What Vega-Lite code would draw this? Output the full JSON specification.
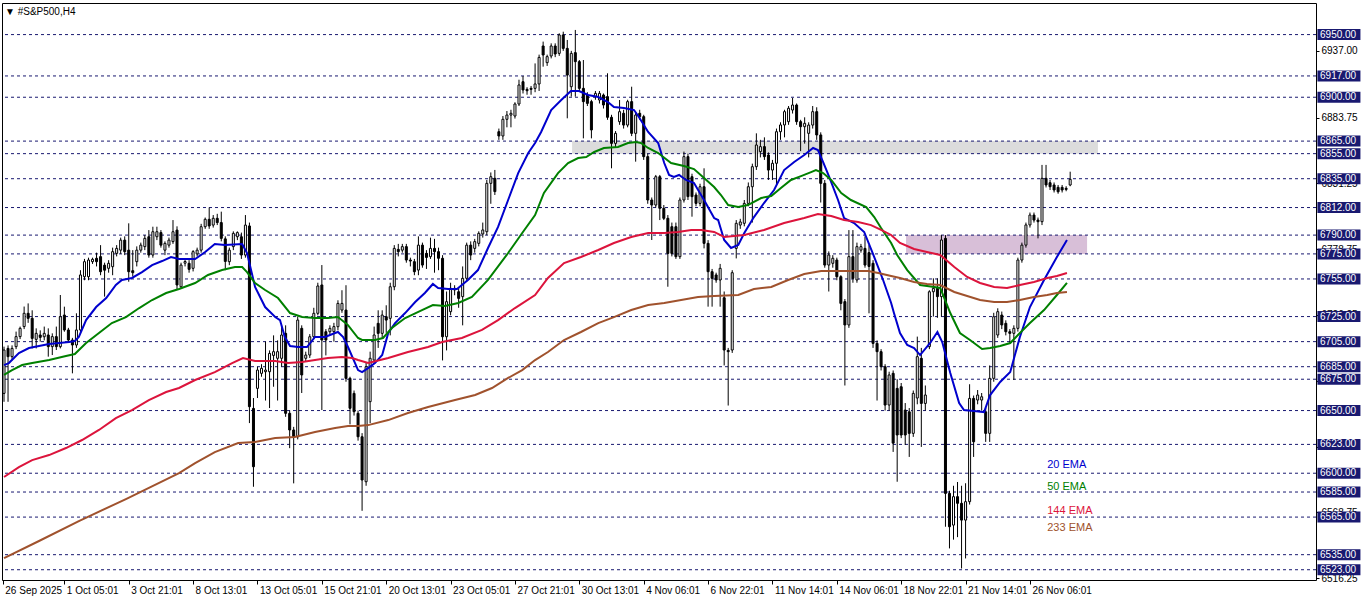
{
"$schema":"https://vega.github.io/schema/vega-lite/v6.json",
"width":1314,"height":577,
"autosize":{"type":"none"},
"padding":{"left":2,"top":3,"right":46,"bottom":23},
"background":"#ffffff",
"title":{"text":"▼ #S&P500,H4","anchor":"start","frame":"group","offset":-14,"dx":3,"fontSize":10,"font":"Liberation Sans","fontWeight":"normal","color":"#000"},
"config":{"view":{"stroke":"#000","strokeWidth":1},"scale":{"continuousPadding":0},"axis":{"grid":false,"domain":false,"labelFont":"Liberation Sans","labelFontSize":10,"labelColor":"#000","tickColor":"#000","tickWidth":1,"labelOverlap":false,"labelBound":false,"labelFlush":false}},
"datasets":{
"zones":[{"x1":141.2,"x2":271.9,"y1":6855,"y2":6865,"z":"g"},{"x1":224.2,"x2":269.2,"y1":6775,"y2":6790,"z":"p"}],
"lv":[{"p":6950},{"p":6917},{"p":6900},{"p":6865},{"p":6855},{"p":6835},{"p":6812},{"p":6790},{"p":6775},{"p":6755},{"p":6725},{"p":6705},{"p":6685},{"p":6675},{"p":6650},{"p":6623},{"p":6600},{"p":6585},{"p":6565},{"p":6535},{"p":6523}],
"leg":[{"t":"20 EMA","s":"20","p":6606.5},{"t":"50 EMA","s":"50","p":6589},{"t":"144 EMA","s":"144","p":6569.8},{"t":"233 EMA","s":"233","p":6556.3}],
"bars":[
{"i":0,"o":6663.7,"h":6701,"l":6657,"c":6698.3},
{"i":1,"o":6699.6,"h":6702,"l":6657,"c":6693},
{"i":2,"o":6693,"h":6702,"l":6690,"c":6699.6},
{"i":3,"o":6701,"h":6713,"l":6699,"c":6709},
{"i":4,"o":6709,"h":6717,"l":6707,"c":6715.6},
{"i":5,"o":6717,"h":6733,"l":6715,"c":6727.6},
{"i":6,"o":6727.6,"h":6735.5,"l":6720,"c":6723.6},
{"i":7,"o":6723.6,"h":6730,"l":6699.6,"c":6707.6},
{"i":8,"o":6706.8,"h":6715.6,"l":6699.6,"c":6711.6},
{"i":9,"o":6710.3,"h":6714,"l":6705,"c":6708.4},
{"i":10,"o":6708.9,"h":6717,"l":6706,"c":6711.6},
{"i":11,"o":6710.3,"h":6715.6,"l":6693,"c":6701},
{"i":12,"o":6701,"h":6711.6,"l":6694.3,"c":6709},
{"i":13,"o":6709,"h":6717,"l":6698.3,"c":6701},
{"i":14,"o":6701,"h":6742.2,"l":6699.6,"c":6724.9},
{"i":15,"o":6726.2,"h":6732.9,"l":6712.9,"c":6714.3},
{"i":16,"o":6714.3,"h":6716,"l":6704,"c":6706.3},
{"i":17,"o":6706.3,"h":6708,"l":6679.7,"c":6702.3},
{"i":18,"o":6702.3,"h":6727.6,"l":6700,"c":6714.3},
{"i":19,"o":6714.3,"h":6762,"l":6712,"c":6758.2},
{"i":20,"o":6756.8,"h":6771,"l":6754,"c":6768.8},
{"i":21,"o":6756.8,"h":6772,"l":6754,"c":6770.1},
{"i":22,"o":6768.8,"h":6772,"l":6767,"c":6770.7},
{"i":23,"o":6771.5,"h":6776,"l":6765,"c":6768.8},
{"i":24,"o":6772.8,"h":6782,"l":6758,"c":6760.8},
{"i":25,"o":6766,"h":6768,"l":6740.9,"c":6762},
{"i":26,"o":6763.5,"h":6770,"l":6760,"c":6767.5},
{"i":27,"o":6764.8,"h":6780,"l":6758,"c":6776.8},
{"i":28,"o":6775.4,"h":6782,"l":6773,"c":6779.4},
{"i":29,"o":6778,"h":6788,"l":6775,"c":6786},
{"i":30,"o":6786,"h":6789,"l":6774,"c":6776.8},
{"i":31,"o":6778,"h":6799.4,"l":6752.8,"c":6760.8},
{"i":32,"o":6761.6,"h":6778,"l":6757,"c":6760},
{"i":33,"o":6768.8,"h":6781,"l":6765,"c":6778},
{"i":34,"o":6778,"h":6784,"l":6776,"c":6782},
{"i":35,"o":6780.8,"h":6790,"l":6778,"c":6787.4},
{"i":36,"o":6788.7,"h":6794,"l":6772,"c":6774.1},
{"i":37,"o":6774.1,"h":6796.7,"l":6772,"c":6792.7},
{"i":38,"o":6788.7,"h":6796.7,"l":6786,"c":6792.7},
{"i":39,"o":6792,"h":6794,"l":6780,"c":6782},
{"i":40,"o":6778,"h":6785,"l":6774,"c":6783.4},
{"i":41,"o":6782,"h":6788,"l":6780,"c":6786},
{"i":42,"o":6784.8,"h":6802,"l":6783,"c":6792.7},
{"i":43,"o":6794,"h":6797,"l":6746.2,"c":6750.2},
{"i":44,"o":6748.8,"h":6768,"l":6747,"c":6766.1},
{"i":45,"o":6767.6,"h":6771,"l":6765,"c":6768.9},
{"i":46,"o":6767.5,"h":6770,"l":6760,"c":6762.7},
{"i":47,"o":6763.5,"h":6778,"l":6761,"c":6776.8},
{"i":48,"o":6775,"h":6780,"l":6773,"c":6778},
{"i":49,"o":6778,"h":6799,"l":6776,"c":6796.7},
{"i":50,"o":6796.7,"h":6804,"l":6795,"c":6802.6},
{"i":51,"o":6802.6,"h":6812,"l":6795,"c":6797.3},
{"i":52,"o":6798,"h":6806,"l":6796,"c":6803.4},
{"i":53,"o":6803.4,"h":6807,"l":6798,"c":6800},
{"i":54,"o":6800,"h":6808.7,"l":6785,"c":6787.4},
{"i":55,"o":6787,"h":6789,"l":6762,"c":6769},
{"i":56,"o":6768.8,"h":6780,"l":6766,"c":6778},
{"i":57,"o":6780.8,"h":6793,"l":6778,"c":6791.4},
{"i":58,"o":6788.7,"h":6793,"l":6786,"c":6792},
{"i":59,"o":6788.7,"h":6792,"l":6771,"c":6774.1},
{"i":60,"o":6774.1,"h":6806,"l":6772,"c":6798},
{"i":61,"o":6797.3,"h":6800,"l":6640,"c":6653.1},
{"i":62,"o":6651.7,"h":6660,"l":6589.2,"c":6605.2},
{"i":63,"o":6667.7,"h":6685,"l":6660,"c":6682.3},
{"i":64,"o":6679.7,"h":6687,"l":6677,"c":6683.7},
{"i":65,"o":6681,"h":6705,"l":6658,"c":6682.3},
{"i":66,"o":6681,"h":6698,"l":6652,"c":6695.6},
{"i":67,"o":6694,"h":6710,"l":6669,"c":6697},
{"i":68,"o":6691.7,"h":6706,"l":6658,"c":6697},
{"i":69,"o":6691.7,"h":6718,"l":6685,"c":6710.3},
{"i":70,"o":6711.6,"h":6718,"l":6645,"c":6647.8},
{"i":71,"o":6647.8,"h":6650,"l":6620,"c":6634.5},
{"i":72,"o":6634.5,"h":6637,"l":6591.9,"c":6629.1},
{"i":73,"o":6629.1,"h":6725,"l":6627,"c":6722.2},
{"i":74,"o":6715.6,"h":6718,"l":6664,"c":6678.4},
{"i":75,"o":6691.7,"h":6697,"l":6689,"c":6694.3},
{"i":76,"o":6694.3,"h":6711,"l":6692,"c":6708.9},
{"i":77,"o":6708.9,"h":6732,"l":6707,"c":6727.6},
{"i":78,"o":6727.6,"h":6752,"l":6726,"c":6749.4},
{"i":79,"o":6750.2,"h":6766.1,"l":6650.4,"c":6706.3},
{"i":80,"o":6712.9,"h":6715,"l":6694,"c":6706.3},
{"i":81,"o":6712.9,"h":6718,"l":6710,"c":6715.6},
{"i":82,"o":6713,"h":6720,"l":6705,"c":6717},
{"i":83,"o":6716.9,"h":6738,"l":6714,"c":6735.5},
{"i":84,"o":6730.2,"h":6746,"l":6728,"c":6735.5},
{"i":85,"o":6730.2,"h":6750,"l":6673,"c":6675.7},
{"i":86,"o":6675.7,"h":6677,"l":6639,"c":6651.8},
{"i":87,"o":6663.7,"h":6666,"l":6646,"c":6649.1},
{"i":88,"o":6647.8,"h":6650,"l":6626,"c":6629.1},
{"i":89,"o":6629.1,"h":6632,"l":6570,"c":6594.6},
{"i":90,"o":6593.2,"h":6688,"l":6590,"c":6685},
{"i":91,"o":6657.1,"h":6697,"l":6640,"c":6691.7},
{"i":92,"o":6690.3,"h":6717,"l":6688,"c":6710.3},
{"i":93,"o":6719.6,"h":6730,"l":6700,"c":6711.6},
{"i":94,"o":6711.6,"h":6730,"l":6708,"c":6726.2},
{"i":95,"o":6724.9,"h":6734,"l":6712,"c":6722.2},
{"i":96,"o":6723.6,"h":6752,"l":6710,"c":6748.8},
{"i":97,"o":6748.8,"h":6782,"l":6746,"c":6779.4},
{"i":98,"o":6778.6,"h":6783,"l":6773,"c":6776.8},
{"i":99,"o":6778,"h":6783,"l":6776,"c":6780.8},
{"i":100,"o":6780.8,"h":6783,"l":6768,"c":6770.1},
{"i":101,"o":6770.1,"h":6772,"l":6765,"c":6769.3},
{"i":102,"o":6768.8,"h":6771,"l":6758,"c":6760.8},
{"i":103,"o":6762.1,"h":6789,"l":6758,"c":6782},
{"i":104,"o":6782,"h":6784,"l":6764,"c":6766.1},
{"i":105,"o":6775.4,"h":6778,"l":6763,"c":6772.2},
{"i":106,"o":6772.8,"h":6788,"l":6771,"c":6779.4},
{"i":107,"o":6779.4,"h":6787,"l":6760,"c":6776.8},
{"i":108,"o":6776.8,"h":6780,"l":6762,"c":6771.5},
{"i":109,"o":6771.5,"h":6774,"l":6690,"c":6708.9},
{"i":110,"o":6708.9,"h":6745,"l":6698,"c":6736.9},
{"i":111,"o":6728.9,"h":6752,"l":6726,"c":6747.5},
{"i":112,"o":6746.2,"h":6750,"l":6742,"c":6747.5},
{"i":113,"o":6744.8,"h":6748,"l":6732,"c":6739.5},
{"i":114,"o":6740.9,"h":6765,"l":6718,"c":6755.5},
{"i":115,"o":6755.5,"h":6784,"l":6753,"c":6782},
{"i":116,"o":6782,"h":6785,"l":6770,"c":6774.1},
{"i":117,"o":6779.4,"h":6787,"l":6776,"c":6784.8},
{"i":118,"o":6783.4,"h":6793,"l":6781,"c":6791.4},
{"i":119,"o":6790.9,"h":6800,"l":6788,"c":6794.1},
{"i":120,"o":6792.7,"h":6834,"l":6790,"c":6831.3},
{"i":121,"o":6831.3,"h":6840,"l":6815,"c":6836.6},
{"i":122,"o":6835.3,"h":6842,"l":6822,"c":6824.7},
{"i":123,"o":6872.5,"h":6875,"l":6866,"c":6869.1},
{"i":124,"o":6869.1,"h":6885,"l":6866,"c":6882.4},
{"i":125,"o":6882.4,"h":6889,"l":6876,"c":6885.8},
{"i":126,"o":6885.8,"h":6890,"l":6876,"c":6887.2},
{"i":127,"o":6885,"h":6896,"l":6883,"c":6894.6},
{"i":128,"o":6894.6,"h":6914,"l":6893,"c":6909.8},
{"i":129,"o":6912.4,"h":6917,"l":6903,"c":6905.8},
{"i":130,"o":6906.3,"h":6908,"l":6902,"c":6905.2},
{"i":131,"o":6907.1,"h":6909,"l":6902,"c":6906.3},
{"i":132,"o":6907.1,"h":6927,"l":6904,"c":6910.6},
{"i":133,"o":6910.6,"h":6934,"l":6905,"c":6931.8},
{"i":134,"o":6940.9,"h":6944.4,"l":6924.4,"c":6933.7},
{"i":135,"o":6927.6,"h":6934,"l":6925,"c":6932.4},
{"i":136,"o":6932.9,"h":6943,"l":6931,"c":6940.9},
{"i":137,"o":6940.9,"h":6943,"l":6932,"c":6934.5},
{"i":138,"o":6935,"h":6951,"l":6933,"c":6949.7},
{"i":139,"o":6949.7,"h":6952.3,"l":6937,"c":6939},
{"i":140,"o":6939,"h":6945.7,"l":6883.2,"c":6917.7},
{"i":141,"o":6908.4,"h":6937,"l":6900.5,"c":6935},
{"i":142,"o":6935.6,"h":6953.7,"l":6900.5,"c":6928.4},
{"i":143,"o":6928.4,"h":6929.7,"l":6904.4,"c":6907.1},
{"i":144,"o":6907.1,"h":6929.7,"l":6867.2,"c":6896.5},
{"i":145,"o":6901.8,"h":6904,"l":6893,"c":6895.1},
{"i":146,"o":6896.5,"h":6898,"l":6867.2,"c":6873.9},
{"i":147,"o":6900.5,"h":6905,"l":6898,"c":6903.1},
{"i":148,"o":6897.8,"h":6905,"l":6895,"c":6903.1},
{"i":149,"o":6901.8,"h":6903,"l":6891,"c":6893.8},
{"i":150,"o":6900.5,"h":6919.1,"l":6882,"c":6884},
{"i":151,"o":6884,"h":6886,"l":6843.3,"c":6863.2},
{"i":152,"o":6863.2,"h":6873,"l":6860,"c":6871.2},
{"i":153,"o":6880.5,"h":6897.8,"l":6878,"c":6888.5},
{"i":154,"o":6887.2,"h":6890,"l":6875,"c":6877.8},
{"i":155,"o":6877.8,"h":6898,"l":6876,"c":6896.5},
{"i":156,"o":6896.5,"h":6908.4,"l":6869,"c":6871.2},
{"i":157,"o":6871.2,"h":6888,"l":6848.6,"c":6885.8},
{"i":158,"o":6887.2,"h":6890,"l":6882,"c":6884.5},
{"i":159,"o":6884.5,"h":6886,"l":6850,"c":6852.6},
{"i":160,"o":6852.6,"h":6855,"l":6815,"c":6818},
{"i":161,"o":6818,"h":6820,"l":6786.1,"c":6814},
{"i":162,"o":6814,"h":6838,"l":6812,"c":6836.6},
{"i":163,"o":6836.6,"h":6838,"l":6802,"c":6811.4},
{"i":164,"o":6811.4,"h":6814,"l":6802,"c":6803.4},
{"i":165,"o":6803.4,"h":6806,"l":6748.8,"c":6775.4},
{"i":166,"o":6796.7,"h":6800,"l":6773,"c":6775.4},
{"i":167,"o":6796.7,"h":6800,"l":6771,"c":6772.8},
{"i":168,"o":6772.8,"h":6820,"l":6771,"c":6818},
{"i":169,"o":6818,"h":6856.6,"l":6816,"c":6852.6},
{"i":170,"o":6852.6,"h":6855,"l":6818,"c":6820.7},
{"i":171,"o":6836.6,"h":6839,"l":6804.7,"c":6820.7},
{"i":172,"o":6822,"h":6824,"l":6813,"c":6815.3},
{"i":173,"o":6815.3,"h":6831,"l":6813,"c":6828.6},
{"i":174,"o":6828.6,"h":6843.3,"l":6779.4,"c":6783.4},
{"i":175,"o":6783.4,"h":6786,"l":6732.9,"c":6760.8},
{"i":176,"o":6760.8,"h":6763,"l":6732.9,"c":6755.5},
{"i":177,"o":6758.2,"h":6760,"l":6752,"c":6754.2},
{"i":178,"o":6754.2,"h":6767,"l":6732.9,"c":6763.5},
{"i":179,"o":6740,"h":6745,"l":6686,"c":6698.3},
{"i":180,"o":6698,"h":6700,"l":6654,"c":6697},
{"i":181,"o":6698.3,"h":6762,"l":6696,"c":6760},
{"i":182,"o":6779.4,"h":6802,"l":6771.4,"c":6799.4},
{"i":183,"o":6798,"h":6803,"l":6795,"c":6800.5},
{"i":184,"o":6799.4,"h":6818,"l":6797,"c":6815.3},
{"i":185,"o":6815.3,"h":6832,"l":6813,"c":6828.6},
{"i":186,"o":6828.6,"h":6847,"l":6800,"c":6844.6},
{"i":187,"o":6844.6,"h":6871.2,"l":6842,"c":6861.9},
{"i":188,"o":6856.6,"h":6866,"l":6852,"c":6860.6},
{"i":189,"o":6860.6,"h":6868,"l":6850,"c":6852.6},
{"i":190,"o":6853.9,"h":6856,"l":6834,"c":6841.9},
{"i":191,"o":6841.9,"h":6850,"l":6834,"c":6847.3},
{"i":192,"o":6847.3,"h":6875,"l":6830,"c":6872.5},
{"i":193,"o":6872.5,"h":6880,"l":6866,"c":6877.9},
{"i":194,"o":6877.9,"h":6890,"l":6868,"c":6888.5},
{"i":195,"o":6880.5,"h":6893,"l":6878,"c":6891.2},
{"i":196,"o":6889.8,"h":6899.4,"l":6887,"c":6893.8},
{"i":197,"o":6893.8,"h":6895,"l":6878,"c":6880.5},
{"i":198,"o":6880.5,"h":6882,"l":6857,"c":6876.5},
{"i":199,"o":6876.5,"h":6884,"l":6863,"c":6879.2},
{"i":200,"o":6871.2,"h":6880,"l":6852,"c":6877.8},
{"i":201,"o":6877.8,"h":6893,"l":6875,"c":6888.5},
{"i":202,"o":6888.5,"h":6892,"l":6866,"c":6869.9},
{"i":203,"o":6869.9,"h":6872,"l":6816,"c":6831.3},
{"i":204,"o":6831.3,"h":6834,"l":6764,"c":6766.1},
{"i":205,"o":6766.1,"h":6777,"l":6745,"c":6774.1},
{"i":206,"o":6767.5,"h":6774,"l":6764,"c":6771.5},
{"i":207,"o":6770.1,"h":6772,"l":6754,"c":6756.8},
{"i":208,"o":6756.8,"h":6758,"l":6730,"c":6735.5},
{"i":209,"o":6736.9,"h":6739,"l":6670,"c":6718.3},
{"i":210,"o":6718.3,"h":6794,"l":6716,"c":6772.8},
{"i":211,"o":6772.8,"h":6794,"l":6752,"c":6755.5},
{"i":212,"o":6754.2,"h":6784,"l":6752,"c":6780.8},
{"i":213,"o":6778,"h":6783,"l":6776,"c":6780.8},
{"i":214,"o":6779.4,"h":6789,"l":6764,"c":6766.1},
{"i":215,"o":6776,"h":6782,"l":6727.6,"c":6765},
{"i":216,"o":6767.5,"h":6770,"l":6700,"c":6703.6},
{"i":217,"o":6703.6,"h":6706,"l":6658,"c":6697},
{"i":218,"o":6697,"h":6699,"l":6682,"c":6685},
{"i":219,"o":6685,"h":6687,"l":6650,"c":6654.4},
{"i":220,"o":6654.4,"h":6681,"l":6650,"c":6678.4},
{"i":221,"o":6679.7,"h":6682,"l":6617,"c":6624},
{"i":222,"o":6667.7,"h":6675,"l":6593.2,"c":6630.5},
{"i":223,"o":6669,"h":6672,"l":6628,"c":6630.5},
{"i":224,"o":6650.4,"h":6656,"l":6622.5,"c":6630.5},
{"i":225,"o":6649,"h":6652,"l":6613,"c":6631.8},
{"i":226,"o":6631.8,"h":6666,"l":6629,"c":6663.7},
{"i":227,"o":6660,"h":6709,"l":6655,"c":6693},
{"i":228,"o":6691.7,"h":6700,"l":6621,"c":6655.7},
{"i":229,"o":6655.7,"h":6670,"l":6650,"c":6662.4},
{"i":230,"o":6701,"h":6746,"l":6699,"c":6744.8},
{"i":231,"o":6744.8,"h":6755.5,"l":6725,"c":6747.5},
{"i":232,"o":6747.5,"h":6755.5,"l":6724,"c":6740.9},
{"i":233,"o":6740.9,"h":6790,"l":6725,"c":6786.1},
{"i":234,"o":6787.4,"h":6790,"l":6557.3,"c":6583.9},
{"i":235,"o":6583.9,"h":6586,"l":6540,"c":6557.3},
{"i":236,"o":6558.6,"h":6590,"l":6547,"c":6581.3},
{"i":237,"o":6581.3,"h":6593,"l":6549,"c":6576},
{"i":238,"o":6576,"h":6590,"l":6524,"c":6562.6},
{"i":239,"o":6562.6,"h":6592,"l":6532,"c":6577.3},
{"i":240,"o":6577.3,"h":6671,"l":6575,"c":6659.7},
{"i":241,"o":6659.7,"h":6662,"l":6613,"c":6625.1},
{"i":242,"o":6658.4,"h":6666.4,"l":6655,"c":6662.4},
{"i":243,"o":6658.4,"h":6664,"l":6650,"c":6661},
{"i":244,"o":6649,"h":6652,"l":6625,"c":6631.8},
{"i":245,"o":6631.8,"h":6686,"l":6625,"c":6675.7},
{"i":246,"o":6675.7,"h":6728,"l":6673,"c":6724.9},
{"i":247,"o":6710.3,"h":6731.6,"l":6708,"c":6728.9},
{"i":248,"o":6726.2,"h":6729,"l":6715,"c":6718.3},
{"i":249,"o":6719.6,"h":6722,"l":6710,"c":6712.9},
{"i":250,"o":6712.9,"h":6715,"l":6703.6,"c":6711.6},
{"i":251,"o":6711.6,"h":6718,"l":6674.4,"c":6715.6},
{"i":252,"o":6715.6,"h":6772,"l":6713,"c":6770.1},
{"i":253,"o":6770.1,"h":6784,"l":6768,"c":6782},
{"i":254,"o":6782,"h":6800,"l":6780,"c":6798.1},
{"i":255,"o":6798.1,"h":6808,"l":6796,"c":6806},
{"i":256,"o":6806,"h":6808,"l":6800,"c":6802},
{"i":257,"o":6802,"h":6804,"l":6787.4,"c":6800.7},
{"i":258,"o":6800.7,"h":6846,"l":6798,"c":6835.3},
{"i":259,"o":6835.3,"h":6846,"l":6828,"c":6830},
{"i":260,"o":6831.8,"h":6834,"l":6826,"c":6828.6},
{"i":261,"o":6830,"h":6832,"l":6824,"c":6826},
{"i":262,"o":6828.1,"h":6830,"l":6823,"c":6824.6},
{"i":263,"o":6828.1,"h":6830,"l":6824,"c":6826},
{"i":264,"o":6827.3,"h":6829,"l":6825,"c":6826.5},
{"i":265,"o":6830,"h":6840.6,"l":6829,"c":6834.5}
],
"ema":[
{"s":"20","i":0,"v":6686.3},{"s":"20","i":1.2,"v":6687.9},{"s":"20","i":3.7,"v":6695.9},{"s":"20","i":6.2,"v":6699.9},{"s":"20","i":8.7,"v":6701.5},{"s":"20","i":11.2,"v":6703.1},{"s":"20","i":13.7,"v":6703.9},{"s":"20","i":16.2,"v":6704.7},{"s":"20","i":17.6,"v":6705.5},{"s":"20","i":18.6,"v":6708.7},{"s":"20","i":20.4,"v":6722.2},{"s":"20","i":22.9,"v":6732.6},{"s":"20","i":25.4,"v":6739.8},{"s":"20","i":27.8,"v":6750.2},{"s":"20","i":29.3,"v":6754.2},{"s":"20","i":31.8,"v":6755.8},{"s":"20","i":34.3,"v":6760.5},{"s":"20","i":36.8,"v":6766.1},{"s":"20","i":39.3,"v":6769.3},{"s":"20","i":41.5,"v":6772.5},{"s":"20","i":43.5,"v":6770.9},{"s":"20","i":47.5,"v":6770.9},{"s":"20","i":50,"v":6776.5},{"s":"20","i":52.4,"v":6782.9},{"s":"20","i":54.9,"v":6782.1},{"s":"20","i":59.2,"v":6782.9},{"s":"20","i":60.4,"v":6775.7},{"s":"20","i":62.4,"v":6748.6},{"s":"20","i":64.9,"v":6732.6},{"s":"20","i":67.4,"v":6724.6},{"s":"20","i":68.6,"v":6722.2},{"s":"20","i":69.8,"v":6708.7},{"s":"20","i":71.1,"v":6701.5},{"s":"20","i":73.1,"v":6700.7},{"s":"20","i":75.3,"v":6700.7},{"s":"20","i":77.3,"v":6708.7},{"s":"20","i":79.8,"v":6708.7},{"s":"20","i":82.3,"v":6711.9},{"s":"20","i":83,"v":6712.7},{"s":"20","i":84.3,"v":6708.7},{"s":"20","i":85.5,"v":6700.7},{"s":"20","i":88,"v":6682.3},{"s":"20","i":89,"v":6680.7},{"s":"20","i":90.5,"v":6683.9},{"s":"20","i":92.2,"v":6687.9},{"s":"20","i":94,"v":6694.3},{"s":"20","i":95.5,"v":6711.9},{"s":"20","i":97.2,"v":6719.8},{"s":"20","i":99.7,"v":6727.8},{"s":"20","i":102.2,"v":6736.6},{"s":"20","i":104.6,"v":6743.8},{"s":"20","i":106.6,"v":6751},{"s":"20","i":107.9,"v":6747.8},{"s":"20","i":110.4,"v":6747},{"s":"20","i":112.6,"v":6747},{"s":"20","i":115.3,"v":6754.2},{"s":"20","i":117.8,"v":6762.1},{"s":"20","i":120.3,"v":6779.7},{"s":"20","i":122.8,"v":6796.5},{"s":"20","i":125.3,"v":6818},{"s":"20","i":127.8,"v":6839.5},{"s":"20","i":130.3,"v":6855.5},{"s":"20","i":132,"v":6863.5},{"s":"20","i":133.5,"v":6872.3},{"s":"20","i":136,"v":6889.8},{"s":"20","i":138.5,"v":6897.8},{"s":"20","i":140.9,"v":6905},{"s":"20","i":142.9,"v":6905},{"s":"20","i":145.2,"v":6901.8},{"s":"20","i":147.7,"v":6900.2},{"s":"20","i":150.1,"v":6896.2},{"s":"20","i":151.6,"v":6892.2},{"s":"20","i":154.1,"v":6891.4},{"s":"20","i":156.6,"v":6889.8},{"s":"20","i":157.8,"v":6884.2},{"s":"20","i":160.1,"v":6872.3},{"s":"20","i":162.6,"v":6863.5},{"s":"20","i":164.1,"v":6847.5},{"s":"20","i":165.3,"v":6838},{"s":"20","i":166.5,"v":6836.4},{"s":"20","i":167.8,"v":6838},{"s":"20","i":169.5,"v":6834},{"s":"20","i":171.5,"v":6831.6},{"s":"20","i":174,"v":6818},{"s":"20","i":176.5,"v":6803.6},{"s":"20","i":177.5,"v":6802},{"s":"20","i":179,"v":6786.1},{"s":"20","i":180.7,"v":6779.7},{"s":"20","i":182.5,"v":6782.1},{"s":"20","i":184,"v":6791.7},{"s":"20","i":186.4,"v":6804.4},{"s":"20","i":188.9,"v":6815.6},{"s":"20","i":191.4,"v":6826},{"s":"20","i":193.9,"v":6841.9},{"s":"20","i":196.4,"v":6848.3},{"s":"20","i":198.9,"v":6853.9},{"s":"20","i":201.1,"v":6859.5},{"s":"20","i":202.3,"v":6857.9},{"s":"20","i":203.6,"v":6848.3},{"s":"20","i":205.1,"v":6836.4},{"s":"20","i":207.3,"v":6818},{"s":"20","i":208.8,"v":6803.6},{"s":"20","i":211.3,"v":6799.6},{"s":"20","i":213.8,"v":6792.5},{"s":"20","i":216.3,"v":6772.5},{"s":"20","i":218.5,"v":6754.2},{"s":"20","i":220.5,"v":6735.8},{"s":"20","i":221.2,"v":6727.8},{"s":"20","i":222.7,"v":6711.9},{"s":"20","i":224.5,"v":6702.3},{"s":"20","i":226.2,"v":6699.9},{"s":"20","i":227.7,"v":6694.3},{"s":"20","i":230.2,"v":6703.9},{"s":"20","i":232,"v":6712.7},{"s":"20","i":233.2,"v":6704.7},{"s":"20","i":235.2,"v":6680},{"s":"20","i":237.4,"v":6656},{"s":"20","i":238.6,"v":6650.4},{"s":"20","i":241.1,"v":6649.6},{"s":"20","i":243.6,"v":6648.8},{"s":"20","i":245.1,"v":6662.4},{"s":"20","i":247.6,"v":6672.8},{"s":"20","i":250.1,"v":6680.7},{"s":"20","i":252.5,"v":6708.7},{"s":"20","i":255,"v":6732.6},{"s":"20","i":258.5,"v":6754.2},{"s":"20","i":261.7,"v":6772.5},{"s":"20","i":264.2,"v":6786.1},
{"s":"50","i":0,"v":6678.4},{"s":"50","i":2,"v":6682.3},{"s":"50","i":4.5,"v":6686.3},{"s":"50","i":7,"v":6687.9},{"s":"50","i":11.2,"v":6690.3},{"s":"50","i":15.4,"v":6693.5},{"s":"50","i":17.6,"v":6695.1},{"s":"50","i":20.4,"v":6703.9},{"s":"50","i":23.6,"v":6711.9},{"s":"50","i":26.8,"v":6719.8},{"s":"50","i":30.3,"v":6724.6},{"s":"50","i":33.6,"v":6731.8},{"s":"50","i":36.8,"v":6738.2},{"s":"50","i":40.3,"v":6743.8},{"s":"50","i":43.5,"v":6747},{"s":"50","i":47.5,"v":6751.8},{"s":"50","i":50.7,"v":6758.2},{"s":"50","i":54.2,"v":6762.1},{"s":"50","i":57.4,"v":6764.5},{"s":"50","i":59.2,"v":6764.5},{"s":"50","i":60.4,"v":6760.5},{"s":"50","i":62.4,"v":6751.8},{"s":"50","i":64.9,"v":6746.2},{"s":"50","i":68.1,"v":6739.8},{"s":"50","i":71.1,"v":6727.8},{"s":"50","i":74.1,"v":6724.6},{"s":"50","i":77.3,"v":6723.8},{"s":"50","i":80.5,"v":6723.8},{"s":"50","i":83,"v":6724.6},{"s":"50","i":85.5,"v":6718.2},{"s":"50","i":88,"v":6707.9},{"s":"50","i":89,"v":6706.3},{"s":"50","i":92.2,"v":6706.3},{"s":"50","i":94.2,"v":6707.9},{"s":"50","i":96.4,"v":6715.9},{"s":"50","i":99.7,"v":6723.8},{"s":"50","i":103.9,"v":6730.2},{"s":"50","i":106.6,"v":6734.2},{"s":"50","i":109.6,"v":6733.4},{"s":"50","i":112.9,"v":6735.8},{"s":"50","i":116.3,"v":6740.6},{"s":"50","i":120.3,"v":6754.2},{"s":"50","i":125.3,"v":6775.7},{"s":"50","i":128.8,"v":6791.7},{"s":"50","i":132,"v":6806},{"s":"50","i":134.2,"v":6823.6},{"s":"50","i":137.7,"v":6839.5},{"s":"50","i":140.2,"v":6847.5},{"s":"50","i":142.7,"v":6851.5},{"s":"50","i":144.7,"v":6852.3},{"s":"50","i":146.7,"v":6856.3},{"s":"50","i":149.1,"v":6859.5},{"s":"50","i":152.6,"v":6860.3},{"s":"50","i":155.1,"v":6863.5},{"s":"50","i":157.1,"v":6864.3},{"s":"50","i":158.3,"v":6863.5},{"s":"50","i":160.1,"v":6859.5},{"s":"50","i":162.6,"v":6855.5},{"s":"50","i":165.8,"v":6847.5},{"s":"50","i":169,"v":6845.1},{"s":"50","i":171.5,"v":6842.7},{"s":"50","i":174,"v":6835.6},{"s":"50","i":176.5,"v":6828.4},{"s":"50","i":178.2,"v":6822},{"s":"50","i":180,"v":6814},{"s":"50","i":182.5,"v":6812.4},{"s":"50","i":184.9,"v":6814},{"s":"50","i":188.2,"v":6819.6},{"s":"50","i":190.7,"v":6821.2},{"s":"50","i":193.1,"v":6827.6},{"s":"50","i":195.6,"v":6834},{"s":"50","i":198.1,"v":6837.1},{"s":"50","i":200.6,"v":6840.3},{"s":"50","i":201.8,"v":6841.9},{"s":"50","i":203.6,"v":6839.5},{"s":"50","i":205.6,"v":6834},{"s":"50","i":208.1,"v":6823.6},{"s":"50","i":210.5,"v":6818},{"s":"50","i":214.3,"v":6812.4},{"s":"50","i":216.3,"v":6804.4},{"s":"50","i":218,"v":6795.7},{"s":"50","i":220.5,"v":6783.7},{"s":"50","i":222,"v":6774.1},{"s":"50","i":224.5,"v":6762.1},{"s":"50","i":227.7,"v":6750.2},{"s":"50","i":231.2,"v":6748.6},{"s":"50","i":232.7,"v":6747.8},{"s":"50","i":235.2,"v":6727.8},{"s":"50","i":237.6,"v":6711.9},{"s":"50","i":240.1,"v":6706.3},{"s":"50","i":243.1,"v":6699.1},{"s":"50","i":245.1,"v":6699.9},{"s":"50","i":247.6,"v":6701.5},{"s":"50","i":250.1,"v":6703.9},{"s":"50","i":252.5,"v":6711.9},{"s":"50","i":255,"v":6719.8},{"s":"50","i":258.5,"v":6730.2},{"s":"50","i":261.7,"v":6742.2},{"s":"50","i":264.2,"v":6751.8},
{"s":"144","i":0,"v":6597},{"s":"144","i":3.7,"v":6604.9},{"s":"144","i":7,"v":6610.5},{"s":"144","i":11.2,"v":6614.5},{"s":"144","i":15.4,"v":6620.1},{"s":"144","i":19.4,"v":6626.5},{"s":"144","i":23.6,"v":6634.5},{"s":"144","i":27.8,"v":6644},{"s":"144","i":31.8,"v":6650.4},{"s":"144","i":36,"v":6658.4},{"s":"144","i":40.3,"v":6664.8},{"s":"144","i":43.5,"v":6668},{"s":"144","i":47.5,"v":6674.4},{"s":"144","i":52.4,"v":6680.7},{"s":"144","i":56.7,"v":6687.9},{"s":"144","i":59.4,"v":6691.9},{"s":"144","i":62.4,"v":6689.5},{"s":"144","i":67.4,"v":6689.5},{"s":"144","i":70.6,"v":6687.9},{"s":"144","i":74.1,"v":6688.7},{"s":"144","i":77.3,"v":6690.3},{"s":"144","i":80.5,"v":6691.9},{"s":"144","i":84,"v":6692.7},{"s":"144","i":86.5,"v":6691.9},{"s":"144","i":88,"v":6690.3},{"s":"144","i":90.5,"v":6687.9},{"s":"144","i":95.5,"v":6691.9},{"s":"144","i":100.4,"v":6696.7},{"s":"144","i":105.4,"v":6700.7},{"s":"144","i":108.9,"v":6704.7},{"s":"144","i":113.8,"v":6707.9},{"s":"144","i":118.8,"v":6714.3},{"s":"144","i":122.8,"v":6722.2},{"s":"144","i":127,"v":6731.8},{"s":"144","i":132,"v":6742.2},{"s":"144","i":135.2,"v":6755.8},{"s":"144","i":139.2,"v":6767.7},{"s":"144","i":143.4,"v":6772.5},{"s":"144","i":147.7,"v":6778.1},{"s":"144","i":151.6,"v":6783.7},{"s":"144","i":155.9,"v":6788.5},{"s":"144","i":160.1,"v":6791.7},{"s":"144","i":164.1,"v":6791.7},{"s":"144","i":167.5,"v":6792.5},{"s":"144","i":170.8,"v":6794.1},{"s":"144","i":173.3,"v":6794.1},{"s":"144","i":176.5,"v":6792.5},{"s":"144","i":179,"v":6788.5},{"s":"144","i":184,"v":6790.1},{"s":"144","i":188.9,"v":6794.1},{"s":"144","i":193.9,"v":6799.6},{"s":"144","i":198.9,"v":6803.6},{"s":"144","i":202.3,"v":6806.8},{"s":"144","i":205.6,"v":6805.2},{"s":"144","i":208.8,"v":6802},{"s":"144","i":212.3,"v":6800.4},{"s":"144","i":215.5,"v":6798},{"s":"144","i":218,"v":6794.1},{"s":"144","i":220.5,"v":6790.1},{"s":"144","i":222.7,"v":6783.7},{"s":"144","i":226.2,"v":6778.9},{"s":"144","i":229.4,"v":6776.5},{"s":"144","i":232.7,"v":6774.1},{"s":"144","i":236.2,"v":6764.5},{"s":"144","i":239.4,"v":6756.6},{"s":"144","i":242.6,"v":6751.8},{"s":"144","i":246.1,"v":6748.6},{"s":"144","i":249.3,"v":6747.8},{"s":"144","i":252.5,"v":6750.2},{"s":"144","i":256,"v":6752.6},{"s":"144","i":259.3,"v":6755.8},{"s":"144","i":261.7,"v":6757.4},{"s":"144","i":264.2,"v":6759.7},
{"s":"233","i":0,"v":6532.3},{"s":"233","i":8.7,"v":6545.9},{"s":"233","i":18.6,"v":6561.8},{"s":"233","i":30.3,"v":6579.4},{"s":"233","i":43.5,"v":6600.1},{"s":"233","i":47.5,"v":6608.1},{"s":"233","i":52.4,"v":6616.9},{"s":"233","i":58.2,"v":6624.1},{"s":"233","i":62.4,"v":6624.9},{"s":"233","i":67.4,"v":6628.1},{"s":"233","i":72.3,"v":6628.9},{"s":"233","i":77.3,"v":6632.9},{"s":"233","i":82.3,"v":6636.1},{"s":"233","i":85.5,"v":6637.7},{"s":"233","i":88,"v":6637.7},{"s":"233","i":90.5,"v":6638.4},{"s":"233","i":95.5,"v":6642.4},{"s":"233","i":100.4,"v":6648},{"s":"233","i":105.4,"v":6652.8},{"s":"233","i":112.1,"v":6658.4},{"s":"233","i":117.1,"v":6662.4},{"s":"233","i":121.3,"v":6668},{"s":"233","i":125.3,"v":6676},{"s":"233","i":128.8,"v":6682.3},{"s":"233","i":132,"v":6690.3},{"s":"233","i":135.2,"v":6696.7},{"s":"233","i":139.2,"v":6706.3},{"s":"233","i":143.4,"v":6712.7},{"s":"233","i":147.7,"v":6719.8},{"s":"233","i":151.6,"v":6724.6},{"s":"233","i":155.9,"v":6730.2},{"s":"233","i":160.1,"v":6734.2},{"s":"233","i":164.1,"v":6735.8},{"s":"233","i":168.3,"v":6738.2},{"s":"233","i":172.5,"v":6740.6},{"s":"233","i":176.5,"v":6741.4},{"s":"233","i":182.5,"v":6742.2},{"s":"233","i":186.4,"v":6747},{"s":"233","i":190.7,"v":6748.6},{"s":"233","i":194.9,"v":6754.2},{"s":"233","i":198.9,"v":6759},{"s":"233","i":203.1,"v":6761.3},{"s":"233","i":207.3,"v":6761.3},{"s":"233","i":211.3,"v":6761.3},{"s":"233","i":214.8,"v":6761.3},{"s":"233","i":217.3,"v":6759.7},{"s":"233","i":220.5,"v":6757.4},{"s":"233","i":222.7,"v":6755.8},{"s":"233","i":226.2,"v":6752.6},{"s":"233","i":229.4,"v":6751},{"s":"233","i":232.7,"v":6750.2},{"s":"233","i":236.2,"v":6744.6},{"s":"233","i":239.4,"v":6741.4},{"s":"233","i":242.6,"v":6738.2},{"s":"233","i":246.1,"v":6736.6},{"s":"233","i":249.3,"v":6736.6},{"s":"233","i":252.5,"v":6738.2},{"s":"233","i":256,"v":6740.6},{"s":"233","i":259.3,"v":6742.2},{"s":"233","i":261.7,"v":6743.8},{"s":"233","i":264.2,"v":6744.6}
]},
"layer":[
{"data":{"name":"zones"},"mark":{"type":"rect"},
 "encoding":{
  "x":{"field":"x1","type":"quantitative","title":null,"scale":{"domain":[-0.5,326.1],"nice":false,"zero":false,"padding":0},
   "axis":{"orient":"bottom","values":[-0.3,15,31,47,63,79,95,111,127,143,159,175,191,207,223,239,255],"labelExpr":"['26 Sep 2025','1 Oct 05:01','3 Oct 21:01','8 Oct 13:01','13 Oct 05:01','15 Oct 21:01','20 Oct 13:01','23 Oct 05:01','27 Oct 21:01','30 Oct 13:01','4 Nov 06:01','6 Nov 22:01','11 Nov 14:01','14 Nov 06:01','18 Nov 22:01','21 Nov 14:01','26 Nov 06:01'][round((datum.value+1)/16)]","labelAlign":"left","labelOffset":2,"tickSize":4,"labelPadding":1}},
  "x2":{"field":"x2"},
  "y":{"field":"y1","type":"quantitative","title":null,"scale":{"domain":[6514.8,6975.2],"nice":false,"zero":false,"padding":0},
   "axis":{"orient":"right","values":[6516.25,6542.5,6568.75,6595,6621.25,6647.5,6673.75,6700,6726.25,6752.5,6778.75,6805,6831.25,6857.5,6883.75,6910,6937,6963.25],"format":".2f","tickSize":3,"labelPadding":2,"labelBaseline":"middle"}},
  "y2":{"field":"y2"},
  "fill":{"condition":{"test":"datum.z=='p'","value":"#d8bfd8"},"value":"#dcdcdc"}}},
{"data":{"name":"lv"},"mark":{"type":"rule","color":"#191970","strokeDash":[3,3],"strokeWidth":1},
 "encoding":{"y":{"field":"p","type":"quantitative","title":null}}},
{"data":{"name":"bars"},"mark":{"type":"rule","color":"#000","strokeWidth":1},
 "encoding":{"x":{"field":"i","type":"quantitative","title":null},"y":{"field":"l","type":"quantitative","title":null},"y2":{"field":"h"}}},
{"data":{"name":"bars"},"mark":{"type":"bar","width":2,"stroke":"#000","strokeWidth":1},
 "encoding":{"x":{"field":"i","type":"quantitative","title":null},"y":{"field":"o","type":"quantitative","title":null},"y2":{"field":"c"},
  "fill":{"condition":{"test":"datum.c < datum.o","value":"#000"},"value":"#fff"}}},
{"data":{"name":"ema"},"mark":{"type":"line","strokeWidth":2},
 "encoding":{"x":{"field":"i","type":"quantitative","title":null},"y":{"field":"v","type":"quantitative","title":null},
  "color":{"field":"s","type":"nominal","scale":{"domain":["20","50","144","233"],"range":["#0000cd","#008000","#dc143c","#a0522d"]},"legend":null}}},
{"data":{"name":"leg"},"mark":{"type":"text","align":"left","baseline":"middle","font":"Liberation Sans","fontSize":11},
 "encoding":{"x":{"datum":259.3},"y":{"field":"p","type":"quantitative","title":null},"text":{"field":"t"},
  "color":{"field":"s","type":"nominal","legend":null}}},
{"data":{"name":"lv"},"mark":{"type":"tick","orient":"horizontal","size":43,"thickness":11,"color":"#191970","opacity":1},
 "encoding":{"x":{"datum":331.8},"y":{"field":"p","type":"quantitative","title":null}}},
{"data":{"name":"lv"},"mark":{"type":"text","align":"left","baseline":"middle","color":"#ffffff","font":"Liberation Sans","fontSize":10},
 "encoding":{"x":{"datum":327.1},"y":{"field":"p","type":"quantitative","title":null},"text":{"field":"p","type":"quantitative","format":".2f"}}}
]
}
